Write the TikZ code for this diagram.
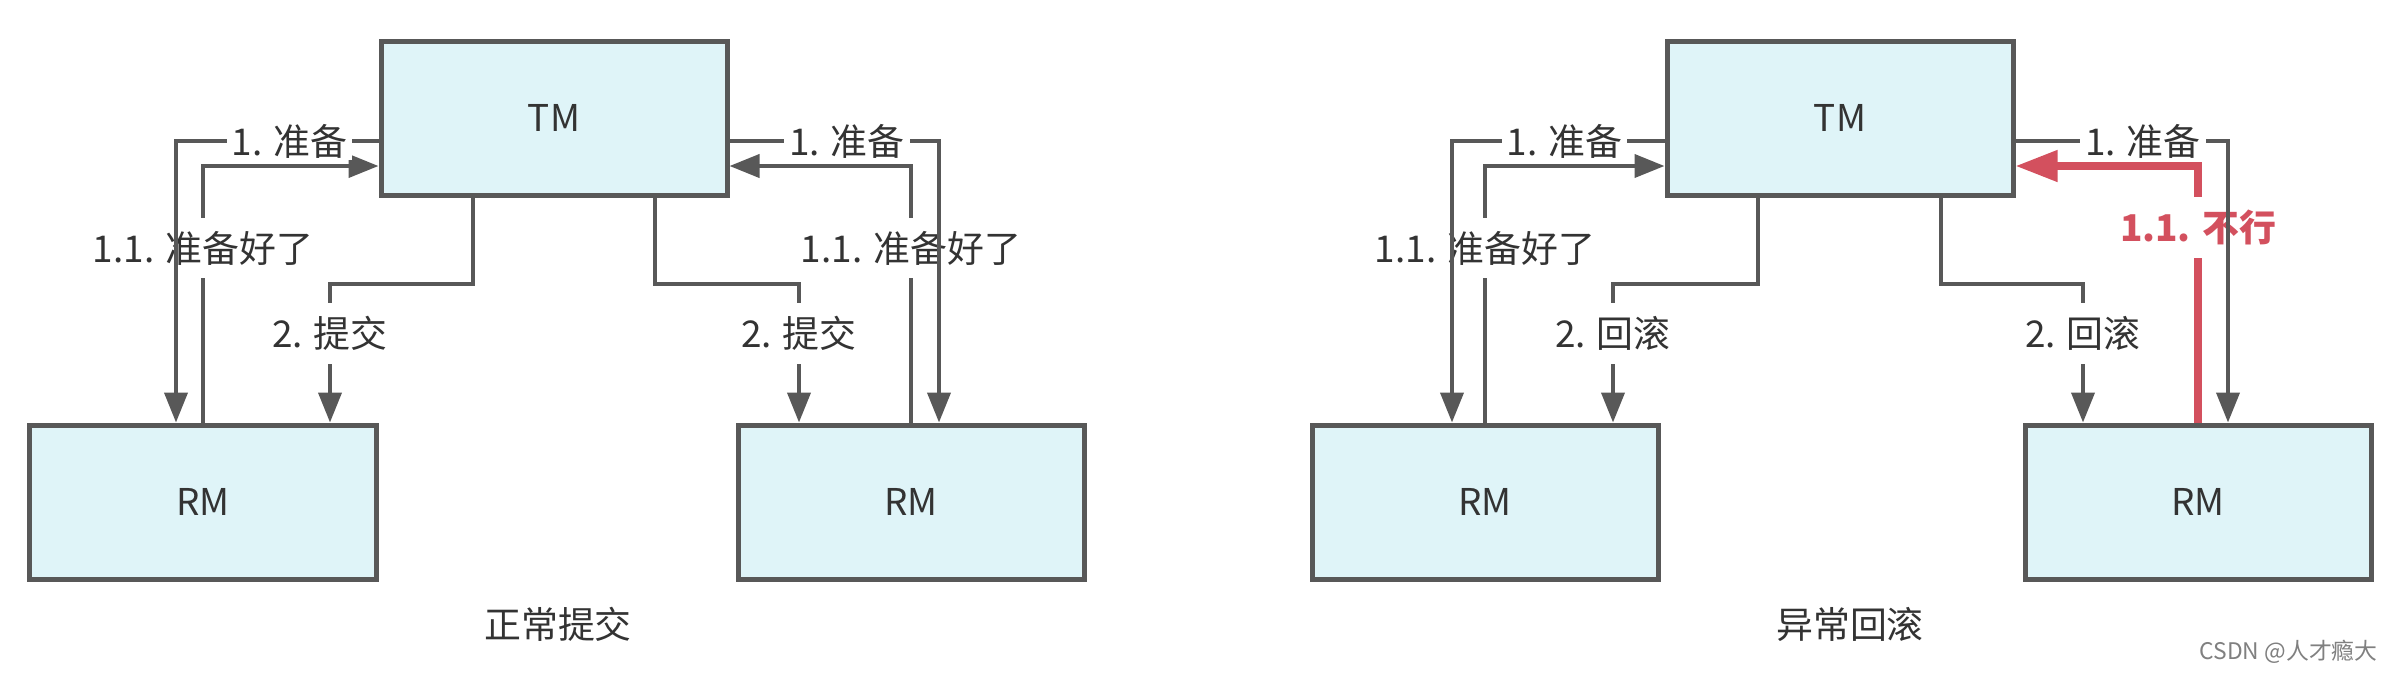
\documentclass[tikz,border=0pt]{standalone}
\usepackage{fontspec}
\setmainfont{Noto Sans CJK SC}
\usepackage{xcolor}
\usepackage{tikz}
\usetikzlibrary{arrows.meta}

\definecolor{boxfill}{HTML}{DFF4F8}
\definecolor{linegray}{HTML}{585858}
\definecolor{errred}{HTML}{D3505E}
\definecolor{txt}{HTML}{333333}

\tikzset{
  box/.style={draw=linegray, line width=0.5mm, fill=boxfill, minimum width=3.46cm, minimum height=1.54cm, inner sep=0pt, text=txt},
  flow/.style={draw=linegray, line width=0.4mm, -{Triangle[length=3mm,width=2.3mm]}},
  nogo/.style={draw=errred, line width=0.75mm, -{Triangle[length=4.2mm,width=3mm]}},
  vlbl/.style={fill=white, inner xsep=0.5mm, inner ysep=1.3mm, text=txt},
  hlbl/.style={fill=white, inner xsep=0.5mm, inner ysep=0.5pt, text=txt},
}

\begin{document}
\begin{tikzpicture}[font=\fontsize{10.5}{12}\selectfont]
        \useasboundingbox[fill=white] (0,0) rectangle (23.92,-6.72);
        % normal commit
        \node[box] (tmA) at (5.54,-1.18) {TM};
        \node[box] (rmA1) at (2.03,-5.02) {RM};
        \node[box] (rmA2) at (9.11,-5.02) {RM};
        \draw[flow] (rmA1.north) |- ([yshift=-4.8mm]tmA.west) node[vlbl,pos=0.34] {1.1. 准备好了};
        \draw[flow] ([yshift=-2.3mm]tmA.west) -| ([xshift=-2.7mm]rmA1.north) node[hlbl,pos=0.22] {1. 准备};
        \draw[flow] ([xshift=-8.1mm]tmA.south) -- ++(0,-0.86) -| ([xshift=12.7mm]rmA1.north) node[vlbl,pos=0.68] {2. 提交};
        \draw[flow] (rmA2.north) |- ([yshift=-4.8mm]tmA.east) node[vlbl,pos=0.34] {1.1. 准备好了};
        \draw[flow] ([yshift=-2.3mm]tmA.east) -| ([xshift=2.8mm]rmA2.north) node[hlbl,pos=0.28] {1. 准备};
        \draw[flow] ([xshift=10.1mm]tmA.south) -- ++(0,-0.86) -| ([xshift=-11.2mm]rmA2.north) node[vlbl,pos=0.68] {2. 提交};
        \node[text=txt] (capA) at (5.58,-6.24) {正常提交};
        % rollback
        \node[box] (tmB) at (18.40,-1.18) {TM};
        \node[box] (rmB1) at (14.85,-5.02) {RM};
        \node[box] (rmB2) at (21.98,-5.02) {RM};
        \draw[flow] (rmB1.north) |- ([yshift=-4.8mm]tmB.west) node[vlbl,pos=0.34] {1.1. 准备好了};
        \draw[flow] ([yshift=-2.3mm]tmB.west) -| ([xshift=-3.3mm]rmB1.north) node[hlbl,pos=0.235] {1. 准备};
        \draw[flow] ([xshift=-8.2mm]tmB.south) -- ++(0,-0.86) -| ([xshift=12.8mm]rmB1.north) node[vlbl,pos=0.68] {2. 回滚};
        \draw[nogo] (rmB2.north) |- ([yshift=-4.8mm]tmB.east) node[vlbl,pos=0.38,text=errred,font=\fontsize{10.5}{12}\bfseries] {1.1. 不行};
        \draw[flow] ([yshift=-2.3mm]tmB.east) -| ([xshift=3mm]rmB2.north) node[hlbl,pos=0.3] {1. 准备};
        \draw[flow] ([xshift=10.1mm]tmB.south) -- ++(0,-0.86) -| ([xshift=-11.5mm]rmB2.north) node[vlbl,pos=0.68] {2. 回滚};
        \node[text=txt] (capB) at (18.50,-6.24) {异常回滚};
        \node[anchor=east, text=gray, font=\fontsize{6.5}{8}\selectfont] (mark) at (23.90,-6.52) {CSDN @人才瘾大};
\end{tikzpicture}
\end{document}
